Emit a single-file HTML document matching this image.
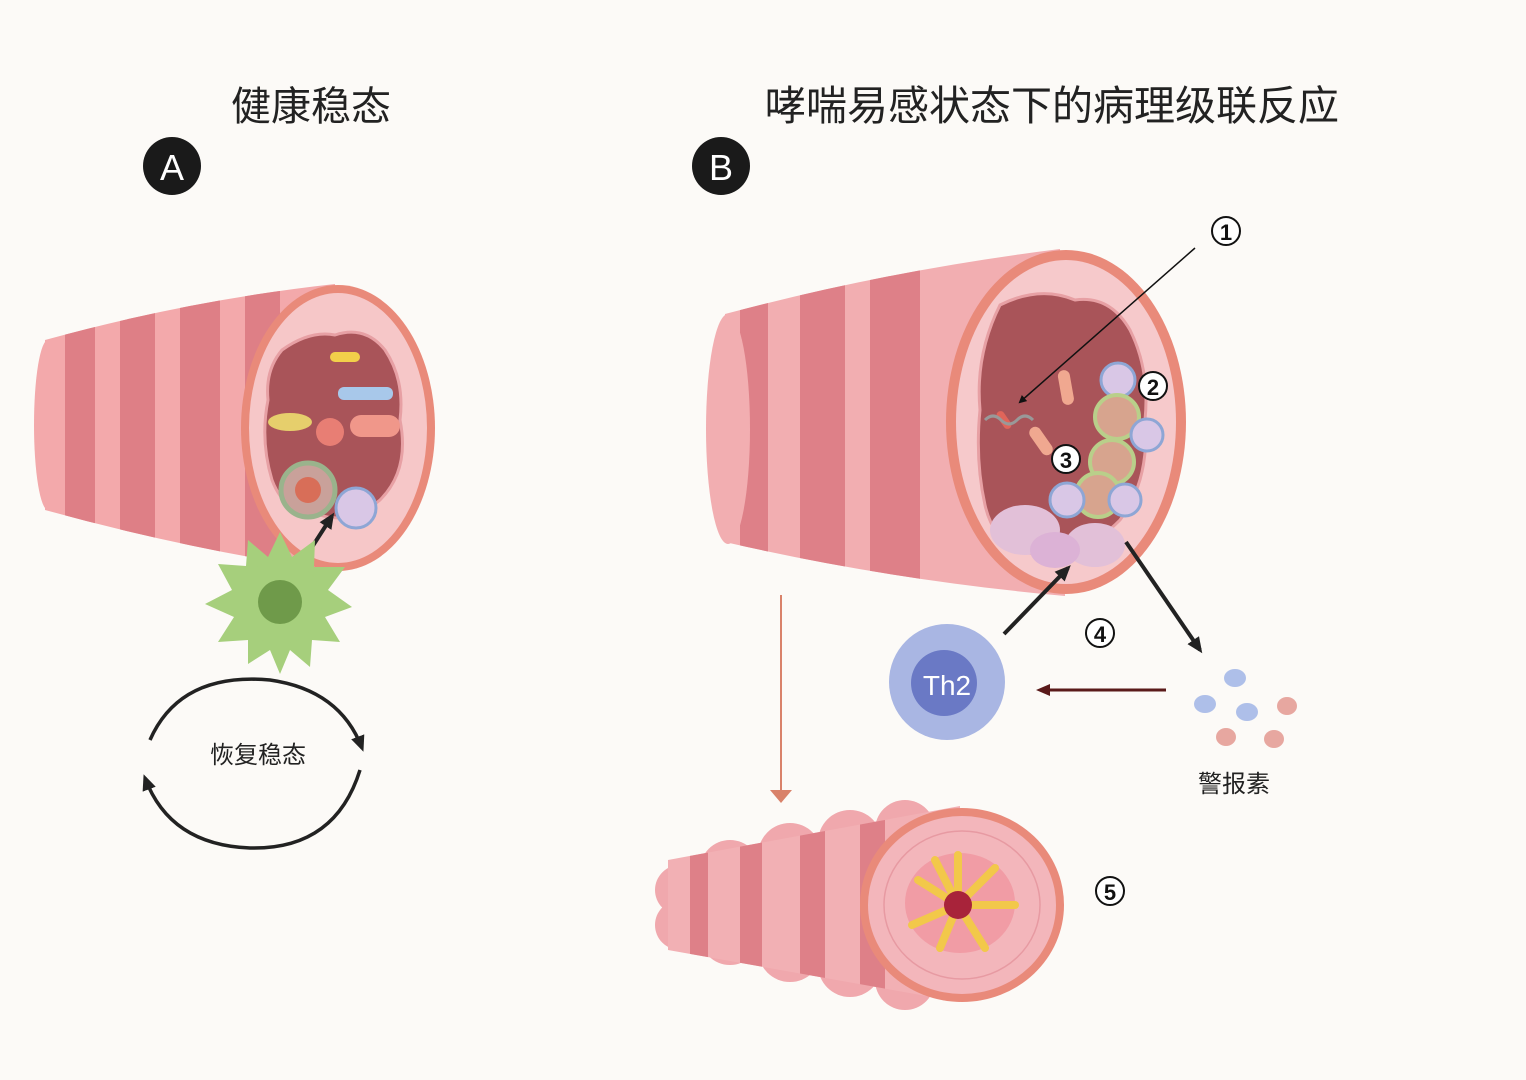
<!DOCTYPE html>
<html><head><meta charset="utf-8">
<style>
html,body{margin:0;padding:0;background:#fcfaf7;}
svg{display:block}
text{font-family:"Liberation Sans","Noto Sans CJK SC",sans-serif;}
</style></head><body>
<svg width="1526" height="1080" viewBox="0 0 1526 1080" xmlns="http://www.w3.org/2000/svg">
<defs>
<marker id="ah" markerWidth="8" markerHeight="8" refX="6" refY="4" orient="auto" markerUnits="userSpaceOnUse"><path d="M0,0 L8,4 L0,8 z" fill="#111"/></marker>
<marker id="ahb" markerWidth="16" markerHeight="14" refX="12" refY="7" orient="auto" markerUnits="userSpaceOnUse"><path d="M0,0 L16,7 L0,14 z" fill="#222"/></marker>
<marker id="ahr" markerWidth="14" markerHeight="12" refX="10" refY="6" orient="auto" markerUnits="userSpaceOnUse"><path d="M0,0 L14,6 L0,12 z" fill="#5a1a1a"/></marker>
<clipPath id="cA"><path d="M45,340 Q190,300 335,284 L340,572 Q190,550 45,510 Z"/></clipPath>
<clipPath id="cB"><path d="M725,314 Q890,270 1060,249 L1065,596 Q890,580 725,542 Z"/></clipPath>
<clipPath id="cC"><path d="M668,860 L960,806 L960,1002 L668,950 Z"/></clipPath>
</defs>
<rect width="1526" height="1080" fill="#fcfaf7"/>

<text x="311" y="120" font-size="40" text-anchor="middle" fill="#222">健康稳态</text>
<text x="1052" y="120" font-size="41" text-anchor="middle" fill="#222">哮喘易感状态下的病理级联反应</text>
<circle cx="172" cy="166" r="29" fill="#1a1a1a"/><text x="172" y="180" font-size="36" fill="#fff" text-anchor="middle">A</text>
<circle cx="721" cy="166" r="29" fill="#1a1a1a"/><text x="721" y="180" font-size="36" fill="#fff" text-anchor="middle">B</text>

<!-- Tube A -->
<g clip-path="url(#cA)">
<rect x="0" y="250" width="400" height="350" fill="#f3a9ab"/>
<rect x="65" y="250" width="30" height="350" fill="#de7f86"/>
<rect x="120" y="250" width="35" height="350" fill="#de7f86"/>
<rect x="180" y="250" width="40" height="350" fill="#de7f86"/>
<rect x="245" y="250" width="35" height="350" fill="#de7f86"/>
</g>
<ellipse cx="48" cy="425" rx="14" ry="85" fill="#f3a9ab"/>
<ellipse cx="338" cy="428" rx="97" ry="143" fill="#e98a7a"/>
<ellipse cx="338" cy="428" rx="89" ry="135" fill="#f6c7c8"/>
<path d="M282,350 Q310,330 335,335 Q365,325 385,350 Q405,380 400,420 Q410,470 380,500 Q350,525 320,515 Q285,515 272,480 Q260,440 268,400 Q265,370 282,350Z" fill="#a95459" stroke="#e7a0a4" stroke-width="3"/>
<rect x="330" y="352" width="30" height="10" rx="5" fill="#f2d04a"/>
<rect x="338" y="387" width="55" height="13" rx="6" fill="#a8c8ea"/>
<rect x="350" y="415" width="50" height="22" rx="11" fill="#f0978a"/>
<ellipse cx="290" cy="422" rx="22" ry="9" fill="#e6cf6c"/>
<circle cx="330" cy="432" r="14" fill="#e87e74"/>
<circle cx="308" cy="490" r="27" fill="#c9a19a" stroke="#9ab38c" stroke-width="5"/>
<circle cx="308" cy="490" r="13" fill="#d86e58"/>
<circle cx="356" cy="508" r="20" fill="#d9c7e6" stroke="#8ea6d5" stroke-width="3"/>
<line x1="305" y1="558" x2="332" y2="516" stroke="#222" stroke-width="4" marker-end="url(#ahb)"/>
<g transform="translate(280,602)">
<path d="M0,-70 L12,-45 L35,-62 L34,-35 L65,-35 L48,-12 L72,5 L45,15 L60,40 L32,38 L30,65 L10,48 L0,72 L-10,48 L-32,62 L-32,38 L-62,40 L-46,15 L-75,2 L-48,-12 L-62,-38 L-34,-36 L-32,-62 L-12,-45 Z" fill="#a6cf7c"/>
<circle r="42" fill="#a6cf7c"/>
<circle r="22" fill="#6f9a4a"/>
</g>
<path d="M150,740 Q180,672 270,680 Q340,690 362,748" fill="none" stroke="#222" stroke-width="3.5" marker-end="url(#ahb)"/>
<path d="M360,770 Q335,850 250,848 Q170,845 145,778" fill="none" stroke="#222" stroke-width="3.5" marker-end="url(#ahb)"/>
<text x="258" y="763" font-size="24" text-anchor="middle" fill="#222">恢复稳态</text>

<!-- Tube B -->
<g clip-path="url(#cB)">
<rect x="690" y="230" width="400" height="390" fill="#f2aeb1"/>
<rect x="740" y="230" width="28" height="390" fill="#de8088"/>
<rect x="800" y="230" width="45" height="390" fill="#de8088"/>
<rect x="870" y="230" width="50" height="390" fill="#de8088"/>
</g>
<ellipse cx="728" cy="429" rx="22" ry="115" fill="#f2aeb1"/>
<ellipse cx="1066" cy="422" rx="120" ry="172" fill="#e98a7a"/>
<ellipse cx="1066" cy="422" rx="110" ry="162" fill="#f6c9cb"/>
<path d="M1000,305 Q1040,285 1075,300 Q1110,295 1130,330 Q1150,370 1145,420 Q1150,480 1120,520 Q1080,560 1040,555 Q995,550 985,505 Q975,460 980,410 Q975,355 1000,305Z" fill="#a95459" stroke="#e7a0a4" stroke-width="3"/>
<rect x="1060" y="370" width="12" height="35" rx="6" fill="#f0a890" transform="rotate(-10 1066 388)"/>
<rect x="1035" y="425" width="12" height="32" rx="6" fill="#f0a890" transform="rotate(-35 1041 441)"/>
<rect x="1000" y="410" width="8" height="20" rx="4" fill="#e0655a" transform="rotate(-35 1004 420)"/>
<path d="M985,420 q8,-8 16,0 t16,0 t16,0" fill="none" stroke="#999" stroke-width="3"/>
<circle cx="1118" cy="380" r="17" fill="#d9c7e6" stroke="#8ea6d5" stroke-width="3"/>
<circle cx="1117" cy="417" r="22" fill="#d7a48e" stroke="#b9cf8a" stroke-width="4"/>
<circle cx="1147" cy="435" r="16" fill="#d9c7e6" stroke="#8ea6d5" stroke-width="3"/>
<circle cx="1112" cy="462" r="22" fill="#d7a48e" stroke="#b9cf8a" stroke-width="4"/>
<circle cx="1098" cy="495" r="22" fill="#d7a48e" stroke="#b9cf8a" stroke-width="4"/>
<circle cx="1067" cy="500" r="17" fill="#d9c7e6" stroke="#8ea6d5" stroke-width="3"/>
<circle cx="1125" cy="500" r="16" fill="#d9c7e6" stroke="#8ea6d5" stroke-width="3"/>
<ellipse cx="1025" cy="530" rx="35" ry="25" fill="#e2c0d8"/>
<ellipse cx="1095" cy="545" rx="30" ry="22" fill="#e2c0d8"/>
<ellipse cx="1055" cy="550" rx="25" ry="18" fill="#dcb2d6"/>
<line x1="1195" y1="248" x2="1020" y2="402" stroke="#111" stroke-width="1.5" marker-end="url(#ah)"/>
<g font-size="24" font-weight="bold" text-anchor="middle" fill="#111">
<circle cx="1226" cy="231" r="14" fill="#fff" stroke="#111" stroke-width="2"/><text x="1226" y="240" font-size="22">1</text>
<circle cx="1153" cy="386" r="14" fill="#fff" stroke="#111" stroke-width="2"/><text x="1153" y="395" font-size="22">2</text>
<circle cx="1066" cy="459" r="14" fill="#fff" stroke="#111" stroke-width="2"/><text x="1066" y="468" font-size="22">3</text>
<circle cx="1100" cy="633" r="14" fill="#fff" stroke="#111" stroke-width="2"/><text x="1100" y="642" font-size="22">4</text>
<circle cx="1110" cy="891" r="14" fill="#fff" stroke="#111" stroke-width="2"/><text x="1110" y="900" font-size="22">5</text>
</g>
<line x1="1004" y1="634" x2="1068" y2="568" stroke="#222" stroke-width="4" marker-end="url(#ahb)"/>
<line x1="1126" y1="542" x2="1200" y2="650" stroke="#222" stroke-width="4" marker-end="url(#ahb)"/>
<line x1="1166" y1="690" x2="1040" y2="690" stroke="#5a1a1a" stroke-width="3" marker-end="url(#ahr)"/>
<circle cx="947" cy="682" r="58" fill="#a9b6e3"/>
<circle cx="944" cy="683" r="33" fill="#6a79c5"/>
<text x="947" y="695" font-size="28" fill="#fff" text-anchor="middle">Th2</text>
<ellipse cx="1235" cy="678" rx="11" ry="9" fill="#aebfe9"/>
<ellipse cx="1205" cy="704" rx="11" ry="9" fill="#aebfe9"/>
<ellipse cx="1247" cy="712" rx="11" ry="9" fill="#aebfe9"/>
<ellipse cx="1287" cy="706" rx="10" ry="9" fill="#e7a7a0"/>
<ellipse cx="1226" cy="737" rx="10" ry="9" fill="#e7a7a0"/>
<ellipse cx="1274" cy="739" rx="10" ry="9" fill="#e7a7a0"/>
<text x="1234" y="792" font-size="24" text-anchor="middle" fill="#222">警报素</text>
<line x1="781" y1="595" x2="781" y2="800" stroke="#d9826a" stroke-width="2"/>
<path d="M770,790 L792,790 L781,803 Z" fill="#d9826a"/>

<!-- Tube C -->
<g fill="#f0a8ad">
<circle cx="680" cy="890" r="25"/><circle cx="680" cy="925" r="25"/>
<circle cx="730" cy="870" r="30"/><circle cx="730" cy="935" r="30"/>
<circle cx="790" cy="855" r="32"/><circle cx="790" cy="950" r="32"/>
<circle cx="850" cy="842" r="32"/><circle cx="850" cy="965" r="32"/>
<circle cx="905" cy="830" r="30"/><circle cx="905" cy="980" r="30"/>
</g>
<g clip-path="url(#cC)">
<rect x="650" y="790" width="330" height="230" fill="#f2b0b4"/>
<rect x="690" y="790" width="18" height="230" fill="#de8088"/>
<rect x="740" y="790" width="22" height="230" fill="#de8088"/>
<rect x="800" y="790" width="25" height="230" fill="#de8088"/>
<rect x="860" y="790" width="25" height="230" fill="#de8088"/>
</g>
<ellipse cx="962" cy="905" rx="102" ry="97" fill="#e98a7a"/>
<ellipse cx="962" cy="905" rx="94" ry="89" fill="#f3b6bb"/>
<ellipse cx="962" cy="905" rx="78" ry="74" fill="none" stroke="#e79aa2" stroke-width="1.5"/>
<ellipse cx="960" cy="903" rx="55" ry="50" fill="#f08a96" opacity="0.6"/>
<g stroke="#f2c84a" stroke-width="8" stroke-linecap="round">
<line x1="958" y1="905" x2="958" y2="855"/><line x1="958" y1="905" x2="995" y2="868"/>
<line x1="958" y1="905" x2="1015" y2="905"/><line x1="958" y1="905" x2="985" y2="948"/>
<line x1="958" y1="905" x2="940" y2="948"/><line x1="958" y1="905" x2="912" y2="925"/>
<line x1="958" y1="905" x2="918" y2="880"/><line x1="958" y1="905" x2="935" y2="860"/>
</g>
<circle cx="958" cy="905" r="14" fill="#a8233a"/>
</svg>
</body></html>
